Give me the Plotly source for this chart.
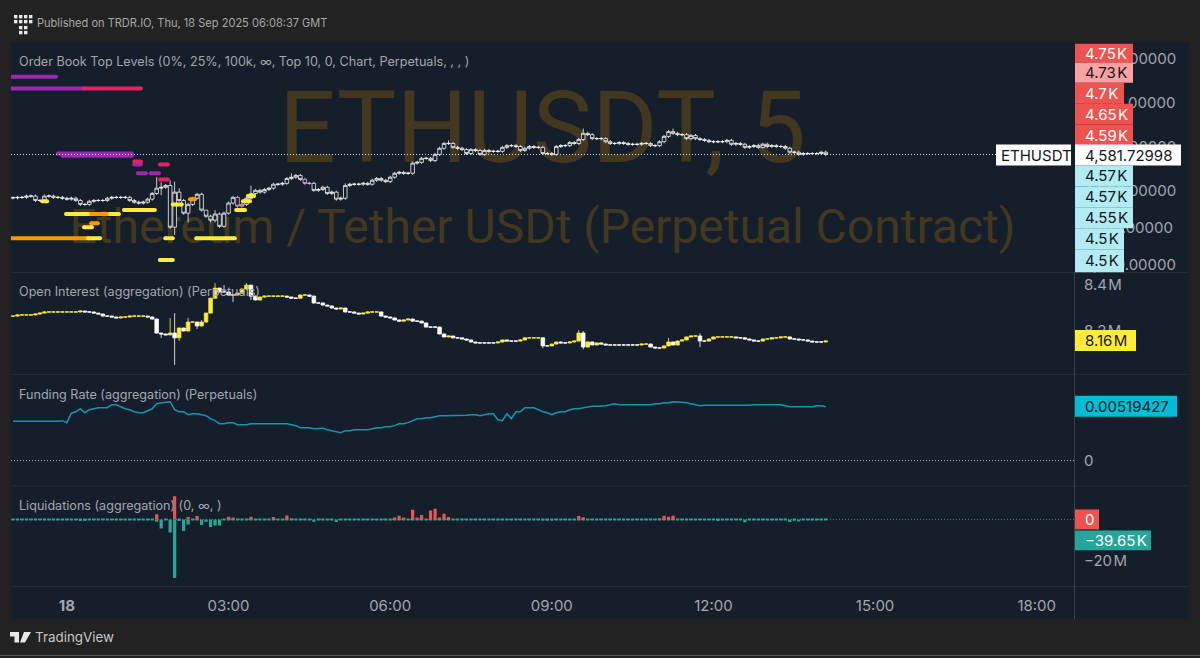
import plotly.graph_objects as go

# ---------- data ----------
bars = list(range(182))  # 5-minute bars; bar 12 is 00:00 on the 18th
tick_bars = [12, 48, 84, 120, 156, 192, 228]
tick_labels = ["<b>18</b>", "03:00", "06:00", "09:00", "12:00", "15:00", "18:00"]

price_close = [
 4483,4484,4484,4487,4487,4477,4477,4487,4487,4484,
 4484,4482,4480,4482,4477,4468,4468,4475,4477,4477,
 4477,4482,4484,4484,4484,4484,4477,4473,4471,4473,
 4480,4493,4505,4507,4511,4416,4496,4477,4448,4468,
 4482,4491,4455,4441,4432,4446,4418,4448,4471,4484,
 4464,4468,4482,4493,4500,4496,4502,4505,4514,4514,
 4516,4527,4530,4534,4525,4516,4516,4500,4502,4507,
 4493,4496,4480,4482,4511,4514,4514,4514,4516,4514,
 4523,4527,4523,4520,4530,4539,4541,4539,4539,4562,
 4564,4573,4573,4568,4582,4596,4607,4607,4598,4596,
 4593,4584,4593,4591,4582,4591,4589,4589,4589,4598,
 4602,4602,4600,4591,4596,4600,4598,4598,4584,4584,
 4582,4600,4602,4602,4609,4607,4616,4630,4627,4618,
 4618,4618,4611,4607,4607,4609,4607,4605,4605,4605,
 4607,4607,4602,4602,4611,4623,4634,4630,4627,4627,
 4618,4625,4618,4616,4614,4611,4611,4611,4611,4614,
 4605,4607,4605,4598,4600,4602,4598,4605,4600,4602,
 4600,4600,4596,4587,4587,4582,4584,4584,4584,4584,
 4587,4582]
price_first_open = 4483
price_high_wicks = {32:4530,33:4518,35:4523,36:4520,37:4505,43:4455,45:4455,53:4511,62:4539,74:4516,97:4614,127:4641,147:4641}
price_low_wicks = {33:4489,36:4398,39:4427,44:4427,45:4427}
pink_bars = [50, 51, 65, 66]
last_price = 4581.72998

oi_close = [
 8.265,8.270,8.270,8.270,8.270,8.274,8.278,8.283,8.283,8.283,
 8.283,8.283,8.283,8.283,8.283,8.287,8.283,8.283,8.278,8.274,
 8.265,8.265,8.261,8.257,8.261,8.261,8.265,8.265,8.265,8.265,
 8.261,8.252,8.191,8.187,8.183,8.191,8.170,8.213,8.200,8.239,
 8.239,8.222,8.239,8.278,8.343,8.387,8.370,8.370,8.357,8.357,
 8.365,8.383,8.400,8.352,8.335,8.348,8.352,8.352,8.352,8.352,
 8.352,8.348,8.343,8.343,8.357,8.357,8.352,8.322,8.322,8.313,
 8.309,8.300,8.296,8.300,8.283,8.283,8.278,8.274,8.278,8.283,
 8.283,8.283,8.265,8.261,8.257,8.248,8.243,8.248,8.252,8.243,
 8.243,8.235,8.217,8.217,8.217,8.187,8.174,8.178,8.170,8.170,
 8.165,8.161,8.152,8.148,8.148,8.148,8.148,8.148,8.152,8.161,
 8.156,8.156,8.156,8.161,8.170,8.170,8.170,8.170,8.135,8.135,
 8.143,8.152,8.148,8.148,8.152,8.156,8.191,8.130,8.152,8.139,
 8.148,8.143,8.139,8.139,8.139,8.139,8.139,8.139,8.139,8.139,
 8.143,8.143,8.130,8.126,8.126,8.135,8.152,8.139,8.156,8.161,
 8.174,8.178,8.178,8.156,8.156,8.165,8.174,8.174,8.174,8.174,
 8.174,8.170,8.170,8.165,8.161,8.156,8.156,8.165,8.165,8.170,
 8.170,8.174,8.174,8.165,8.165,8.161,8.161,8.156,8.152,8.152,
 8.152,8.156]
oi_first_open = 8.265
oi_high_wicks = {35:8.257,36:8.278,39:8.257,42:8.248,45:8.409,47:8.400,52:8.409,126:8.204,127:8.200,153:8.190,146:8.170}
oi_low_wicks = {33:8.170,36:8.052,37:8.156,41:8.209,49:8.326,53:8.335,153:8.130,118:8.125,127:8.120}

funding = [
 3.80,3.80,3.75,3.75,3.75,3.75,3.75,3.75,3.75,3.75,
 3.80,3.85,3.66,4.57,4.71,5.00,4.62,4.91,5.00,5.10,
 5.10,5.10,5.39,5.39,5.19,5.00,4.91,4.71,4.62,4.62,
 4.81,5.00,5.48,5.58,5.63,5.68,4.91,4.71,4.71,4.43,
 4.52,4.52,4.43,4.33,4.04,3.85,3.56,3.56,3.66,3.66,
 3.46,3.46,3.46,3.56,3.56,3.56,3.56,3.56,3.56,3.56,
 3.56,3.56,3.46,3.37,3.17,3.17,3.17,3.08,3.08,3.13,
 2.98,2.89,2.79,2.69,2.89,2.89,2.98,2.98,2.98,2.98,
 3.08,3.17,3.17,3.27,3.27,3.37,3.56,3.56,3.66,3.85,
 4.04,4.04,4.14,4.14,4.23,4.33,4.33,4.33,4.33,4.33,
 4.33,4.38,4.43,4.43,4.33,4.43,4.52,4.52,3.94,3.85,
 4.52,4.04,4.71,4.71,5.10,5.10,5.10,4.91,4.71,4.62,
 4.43,4.62,4.71,4.71,4.91,5.00,5.00,5.10,5.19,5.24,
 5.24,5.24,5.29,5.39,5.48,5.39,5.39,5.39,5.39,5.39,
 5.39,5.39,5.39,5.48,5.48,5.58,5.58,5.68,5.68,5.63,
 5.58,5.48,5.39,5.29,5.34,5.34,5.34,5.34,5.34,5.34,
 5.34,5.29,5.29,5.29,5.34,5.39,5.39,5.39,5.39,5.39,
 5.39,5.39,5.29,5.19,5.19,5.19,5.19,5.19,5.19,5.29,
 5.29,5.19427]  # thousandths

liq_up = [
 0,0,0,0,0,0,0,0,0,0, 0,0,0,0,0,0,0,0,0,0, 0,0,0,0,0,0,0,0,0,0,
 0,0,2.4,0,0,0,11,0,0,1.1, 0,1.6,0,0,0,0,0,0,1.3,0.8,
 0,0,0,1.3,0,0,0,0,1.1,0, 0,1.9,0.3,0,0,0,0,0,0,0, 0,0,0,0,0,0,0,0,0,0,
 0,0,0,0,0,0.8,1.7,0.6,0,4.6, 0.8,2.1,0,4.3,5.1,0.5,2.7,1.1,0,0,
 0,0,0,0,0,0,0,0,0,0, 0,0,0,0,0,0,0,0,0,0,
 0,0,0,0,0,0,1.6,1.0,0,0, 0,0,0,0,0,0,0,0,0,0,
 0,0,0,0,0.3,1.7,1.3,1.7,0,0, 0,0,0,0,0,0,0,0,0,0,
 0,0,0,0,0,0,0,0,0,0, 0,0,0,0,0,0,0,0,0,0, 0,0]
liq_down = [
 -.3,-.3,-.3,-.3,-.3,-.3,-.3,-.3,-.3,-.3, -.3,-.3,-.3,-.3,-.3,-.8,-.8,-.3,-.3,-.3,
 -.3,-.3,-.3,-.3,-.3,-.3,-.3,-.3,-.3,-.3, -.3,-.3,-1.1,-4.4,-.3,-6.3,-28,-.8,-5.5,-2.4,
 -.3,-.3,-2.7,-1.1,-3.6,-2.9,-2.9,-.3,-.3,-.3, -.3,-.3,-.3,-.3,-.3,-.3,-.3,-.3,-.3,-.3,
 -.3,-.3,-.3,-.3,-.3,-.3,-.3,-1.1,-.3,-.3, -.3,-.3,-1.3,-.3,-.3,-.3,-.3,-.3,-.3,-.3,
 -.3,-.3,-.3,-.3,-.3,-.3,-.3,-.3,-.3,-.3, -.3,-.3,-.3,-.3,-.3,-.3,-.3,-.3,-.3,-.3,
 -.3,-.3,-.3,-.3,-.3,-.3,-.3,-.3,-.3,-.3, -.3,-.3,-.3,-.3,-.3,-.3,-.3,-.3,-.7,-.7,
 -.7,-.3,-.3,-.3,-.3,-.3,-.3,-.3,-.3,-.3, -.3,-.3,-.3,-.3,-.3,-.3,-.3,-.3,-.3,-.3,
 -.3,-.3,-.3,-.3,-.3,-.3,-.3,-.3,-.3,-.3, -.3,-.3,-.3,-.3,-.3,-.3,-.3,-.8,-.3,-.3,
 -.3,-.3,-.3,-1.4,-.3,-.3,-.3,-.3,-.3,-.3, -.3,-.3,-.3,-1.3,-.6,-1.0,-.3,-.3,-.3,-.3,
 -.3,-.3]

# order-book levels: start bar, end bar, price, colour name
level_start = [-0.45,-0.45,15.8,10,11,27,27,32.7,27.8,30.7,32.7,6.5,11.8,16.7,21.6,24.7,29.6,17.4,15.8,-0.45,16.7,33.9,40.8,32.7,35.6,39.4,49.7,51.2,52.3]
level_end   = [9.6,15.8,28.5,26.5,26.5,28.5,28.5,34.5,29.6,32.5,34.5,7.6,16.7,21.6,23.6,29.4,31.6,18.9,17.6,16.7,19.4,35.6,49.4,35.6,37.6,40.5,51.7,52.8,53.7]
level_price = [4759,4732,4732,4584,4579,4566,4559,4559,4539,4539,4525,4475,4446,4446,4446,4455,4455,4425,4416,4391,4391,4391,4391,4341,4468,4480,4455,4475,4487]
level_kind  = ["purple","purple","pink","purple","purple","pink","purple","pink","purple","purple","pink","yellow","yellow","orange","yellow","yellow","yellow","orange","yellow","orange","yellow","yellow","yellow","yellow","yellow","orange","yellow","yellow","yellow"]
level_colors = {"purple":"#9c27b0","pink":"#e91e63","orange":"#ff9800","yellow":"#ffeb3b"}

price_ticks = [4800,4700,4600,4500,4415,4330]
price_tick_text = ["4,800.00000","4,700.00000","4,600.00000","4,500.00000","4,415.00000","4,330.00000"]
oi_ticks = [8.4,8.2]
oi_tick_text = ["8.4\u200aM","8.2\u200aM"]

book_labels = [("4.75\u200aK",43,62,1133,"#ef5350","#ffffff"),("4.73\u200aK",62,82,1133,"#faa1a4","#131722"),
               ("4.7\u200aK",82,103,1124,"#ef5350","#ffffff"),("4.65\u200aK",103,124,1133,"#ef5350","#ffffff"),
               ("4.59\u200aK",124,145,1133,"#ef5350","#ffffff"),("4.57\u200aK",165,186,1133,"#b2ebf2","#131722"),
               ("4.57\u200aK",186,207,1133,"#b2ebf2","#131722"),("4.55\u200aK",207,228,1133,"#b2ebf2","#131722"),
               ("4.5\u200aK",228,249,1124,"#b2ebf2","#131722"),("4.5\u200aK",249,272,1124,"#b2ebf2","#131722"),
               ("4,581.72998",144,165,1181,"#ffffff","#131722"),
               ("8.16\u200aM",330,351,1136,"#ffeb3b","#131722"),("0.00519427",396,417,1177,"#00bcd4","#131722"),
               ("0",510,530,1099,"#ef5350","#ffffff"),("\u221239.65\u200aK",531,551,1151,"#26a69a","#ffffff")]

# ---------- styling ----------
W, H = 1200, 658
PAPER, PANE, EDGE = "#222222", "#151e2b", "#2a3038"
TEXT = "#a3a6af"
FONT = "Inter"
X = lambda p: p / W
Y = lambda p: 1 - (p + 1) / H
XRANGE = [-0.445, 236.3]

def candle_parts(closes, first, hi, lo, pad):
    opens = [first] + closes[:-1]
    high = [hi.get(i, max(o, c) + pad) for i, (o, c) in enumerate(zip(opens, closes))]
    low = [lo.get(i, min(o, c) - pad) for i, (o, c) in enumerate(zip(opens, closes))]
    return opens, high, low

fig = go.Figure()

# watermark sits in the first subplot, so the candles draw over it
fig.add_trace(go.Scatter(x=[0.5], y=[0.589], mode="text", text=["ETHUSDT, 5"], xaxis="x", yaxis="y",
                         textfont=dict(family="Roboto", size=100, color="#43371f"), hoverinfo="skip", showlegend=False))
fig.add_trace(go.Scatter(x=[0.5], y=[0.178], mode="text", text=["Ethereum / Tether USDt (Perpetual Contract)"], xaxis="x", yaxis="y",
                         textfont=dict(family="Roboto", size=48, color="#43371f"), hoverinfo="skip", showlegend=False))

# price
po, ph, pl = candle_parts(price_close, price_first_open, price_high_wicks, price_low_wicks, 3.5)
def sub(lst, idx): return [lst[i] for i in idx]
white_idx = [i for i in bars if i not in pink_bars]
hollow = dict(line=dict(color="#f4f4f4", width=0.8), fillcolor=PANE)
fig.add_trace(go.Candlestick(x=white_idx, open=sub(po, white_idx), high=sub(ph, white_idx), low=sub(pl, white_idx), close=sub(price_close, white_idx),
                             increasing=hollow, decreasing=hollow, xaxis="x2", yaxis="y2", showlegend=False))
pinkst = dict(line=dict(color="#f0b0f0", width=0.8), fillcolor=PANE)
fig.add_trace(go.Candlestick(x=pink_bars, open=sub(po, pink_bars), high=sub(ph, pink_bars), low=sub(pl, pink_bars), close=sub(price_close, pink_bars),
                             increasing=pinkst, decreasing=pinkst, xaxis="x2", yaxis="y2", showlegend=False))
for kind, col in level_colors.items():
    xs, ys = [], []
    for s, e, p, k in zip(level_start, level_end, level_price, level_kind):
        if k == kind:
            xs += [s, e, None]; ys += [p, p, None]
    fig.add_trace(go.Scatter(x=xs, y=ys, mode="lines+markers", line=dict(color=col, width=4), marker=dict(color=col, size=4),
                             xaxis="x2", yaxis="y2", showlegend=False, hoverinfo="skip"))

# open interest
oo, oh, ol = candle_parts(oi_close, oi_first_open, oi_high_wicks, oi_low_wicks, 0.002)
fig.add_trace(go.Candlestick(x=bars, open=oo, high=oh, low=ol, close=oi_close, xaxis="x3", yaxis="y3", showlegend=False,
                             increasing=dict(line=dict(color="#ffeb3b", width=0.8), fillcolor="#ffeb3b"),
                             decreasing=dict(line=dict(color="#ffffff", width=0.8), fillcolor="#ffffff")))

# funding
fig.add_trace(go.Scatter(x=bars, y=funding, mode="lines", line=dict(color="#1596b0", width=1.5), xaxis="x4", yaxis="y4",
                         showlegend=False, hoverinfo="skip"))

# liquidations
fig.add_trace(go.Bar(x=bars, y=liq_down, marker=dict(color="#26a69a", line=dict(width=0)), width=0.72, xaxis="x5", yaxis="y5", showlegend=False))
fig.add_trace(go.Bar(x=bars, y=liq_up, marker=dict(color="#ef5350", line=dict(width=0)), width=0.72, xaxis="x5", yaxis="y5", showlegend=False))

shapes = [dict(type="rect", xref="paper", yref="paper", x0=X(11), x1=X(1189), y0=Y(42), y1=Y(620), fillcolor=PANE, line=dict(width=0), layer="below"),
          dict(type="rect", xref="paper", yref="paper", x0=0, x1=1, y0=Y(656), y1=0, fillcolor="#5a5a5a", line=dict(width=0), layer="below")]
for py in (272.5, 374.5, 486.5, 587.5):
    shapes.append(dict(type="line", xref="paper", yref="paper", x0=X(11), x1=X(1189), y0=Y(py), y1=Y(py), line=dict(color=EDGE, width=1), layer="below"))
shapes.append(dict(type="line", xref="paper", yref="paper", x0=X(1074.5), x1=X(1074.5), y0=Y(272), y1=Y(620), line=dict(color="#3a424e", width=1), layer="below"))

# dotted reference lines
DOT = "1px,2px"
shapes.append(dict(type="line", xref="x2", yref="y2", x0=XRANGE[0], x1=219, y0=last_price, y1=last_price, line=dict(color="#d8dbe0", width=1, dash=DOT)))
shapes.append(dict(type="line", xref="x4", yref="y4", x0=XRANGE[0], x1=XRANGE[1], y0=0, y1=0, line=dict(color="#b8bcc4", width=1, dash=DOT)))
shapes.append(dict(type="line", xref="x5", yref="y5", x0=XRANGE[0], x1=XRANGE[1], y0=0, y1=0, line=dict(color="#5d7f85", width=1, dash=DOT), layer="below"))

annotations = []
def label(text, y0, y1, x1, bg, fg, x0=1075, tx=1085):
    shapes.append(dict(type="rect", xref="paper", yref="paper", x0=X(x0), x1=X(x1), y0=Y(y0), y1=Y(y1), fillcolor=bg, line=dict(width=0), layer="above"))
    annotations.append(dict(xref="paper", yref="paper", x=X(tx), y=Y((y0 + y1) / 2), xanchor="left", yanchor="middle", text=text, showarrow=False,
                            borderpad=0, borderwidth=0, font=dict(family=FONT, size=15, color=fg)))
for lab in book_labels:
    label(*lab)
label("ETHUSDT", 144, 165, 1071, "#ffffff", "#131722", x0=996, tx=1001)

def note(text, px, py, size=12.6, color=TEXT):
    annotations.append(dict(xref="paper", yref="paper", x=X(px), y=Y(py), xanchor="left", yanchor="middle", text=text, showarrow=False,
                            borderpad=0, borderwidth=0, font=dict(family=FONT, size=size, color=color)))
note("Order Book Top Levels (0%, 25%, 100k, \u221e, Top 10, 0, Chart, Perpetuals, , , )", 19, 60.5)
note("Open Interest (aggregation) (Perpetuals)", 19, 291.5)
note("Funding Rate (aggregation) (Perpetuals)", 19, 394.5)
note("Liquidations (aggregation) (0, \u221e, )", 19, 506)
note("Published on TRDR.IO, Thu, 18 Sep 2025 06:08:37 GMT", 37, 22.5, size=11.05, color="#a8a8a8")
note("TradingView", 35, 638, size=13.4, color="#c8c8c8")

# TRDR logo: grid of small squares
for row, py in enumerate((14, 19, 25, 30)):
    for px in ((14, 19, 24, 29) if row < 2 else (19, 24)):
        shapes.append(dict(type="rect", xref="paper", yref="paper", x0=X(px), x1=X(px + 3.4), y0=Y(py), y1=Y(py + 3.4),
                           fillcolor="#e8e8e8", line=dict(width=0)))
# TradingView mark
def poly(points, color):
    path = "M" + " L".join(f"{X(a):.5f},{Y(b):.5f}" for a, b in points) + " Z"
    shapes.append(dict(type="path", xref="paper", yref="paper", path=path, fillcolor=color, line=dict(width=0)))
poly([(10, 633), (19, 633), (19, 643.5), (14.5, 643.5), (14.5, 637.5), (10, 637.5)], "#e8e8e8")
poly([(24, 633), (31, 633), (25, 643.5), (20, 643.5)], "#e8e8e8")

axis_common = dict(showgrid=False, zeroline=False, showline=False, fixedrange=True)
def xax(anchor, **kw):
    d = dict(axis_common, domain=[X(11), X(1074)], range=XRANGE, anchor=anchor, showticklabels=False, rangeslider=dict(visible=False))
    d.update(kw); return d
def yax(anchor, top, bottom, rng, **kw):
    d = dict(axis_common, domain=[Y(bottom), Y(top)], range=rng, anchor=anchor, side="right", showticklabels=False,
             tickfont=dict(family=FONT, size=15, color=TEXT), ticks="", ticklabelstandoff=9)
    d.update(kw); return d

fig.update_layout(
    width=W, height=H, autosize=False, margin=dict(l=0, r=0, t=0, b=0),
    paper_bgcolor=PAPER, plot_bgcolor="rgba(0,0,0,0)", barmode="overlay", hovermode=False, showlegend=False,
    boxgap=0.2, boxgroupgap=0,
    font=dict(family=FONT, color=TEXT), shapes=shapes, annotations=annotations,
    xaxis=dict(axis_common, domain=[X(11), X(1074)], range=[0, 1], anchor="y", visible=False),
    yaxis=dict(axis_common, domain=[Y(272), Y(42)], range=[0, 1], anchor="x", visible=False),
    xaxis2=xax("y2"), xaxis3=xax("y3"), xaxis4=xax("y4"),
    xaxis5=xax("y5", showticklabels=True, tickmode="array", tickvals=tick_bars, ticktext=tick_labels,
               tickfont=dict(family=FONT, size=15, color=TEXT), ticks="outside", ticklen=5, tickcolor="rgba(0,0,0,0)"),
    yaxis2=yax("x2", 42, 272, [4313.5, 4836.3], showticklabels=True, tickmode="array", tickvals=price_ticks, ticktext=price_tick_text),
    yaxis3=yax("x3", 273, 374, [8.013, 8.4522], showticklabels=True, tickmode="array", tickvals=oi_ticks, ticktext=oi_tick_text),
    yaxis4=yax("x4", 375, 486, [-2.405, 8.27], showticklabels=True, tickmode="array", tickvals=[0], ticktext=["0"]),
    yaxis5=yax("x5", 487, 588, [-32.4, 15.7], showticklabels=True, tickmode="array", tickvals=[-20], ticktext=["\u221220\u200aM"]),
)

fig.write_html("out.html", config=dict(displayModeBar=False),
               post_script="document.body.style.margin='0';document.body.style.overflow='hidden';")
